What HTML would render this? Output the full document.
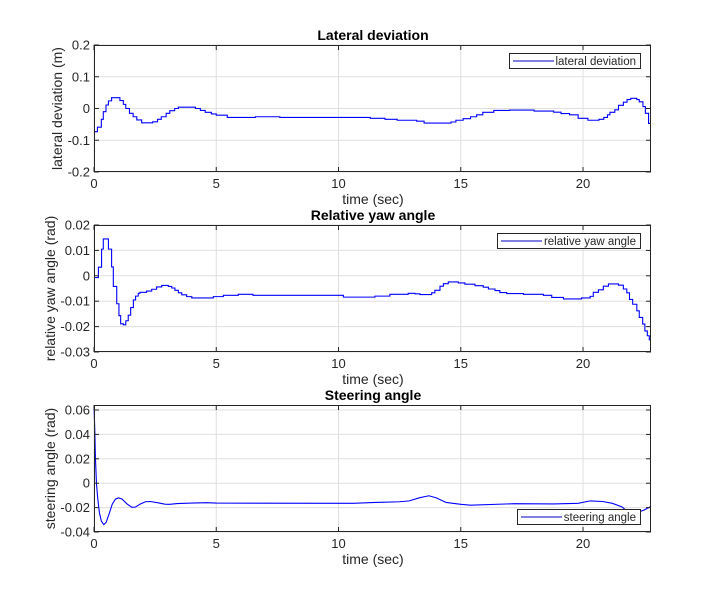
<!DOCTYPE html>
<html><head><meta charset="utf-8"><style>
html,body{margin:0;padding:0;background:#fff;}
svg{display:block;font-family:"Liberation Sans",sans-serif;}
</style></head><body>
<svg id="fig" width="720" height="600" viewBox="0 0 720 600">
<rect width="720" height="600" fill="#fff"/>
</svg>
<script>
// ---- data ----
const latT=[0,0.14,0.3,0.38,0.49,0.59,0.72,1.06,1.2,1.3,1.45,1.6,1.75,1.95,2.4,2.6,2.75,2.95,3.1,3.3,3.45,4.15,4.35,4.55,4.8,5.0,5.45,6.6,7.6,11.3,11.9,12.4,13.2,13.5,14.6,14.8,15.1,15.4,15.65,15.9,16.35,17.0,18.0,18.8,19.1,19.45,19.8,20.2,20.65,20.85,21.0,21.1,21.3,21.45,21.65,21.8,21.95,22.2,22.3,22.45,22.55,22.68];
const latV=[-0.073,-0.059,-0.034,-0.010,0.011,0.024,0.034,0.025,0.013,0.0,-0.015,-0.026,-0.036,-0.045,-0.042,-0.034,-0.026,-0.015,-0.007,0.0,0.004,0.0,-0.006,-0.012,-0.017,-0.021,-0.028,-0.026,-0.028,-0.031,-0.034,-0.037,-0.040,-0.046,-0.0425,-0.037,-0.032,-0.026,-0.020,-0.012,-0.006,-0.005,-0.008,-0.0115,-0.016,-0.020,-0.031,-0.037,-0.034,-0.028,-0.020,-0.012,-0.004,0.010,0.020,0.028,0.032,0.028,0.021,0.006,-0.015,-0.047];
const yawT=[0,0.18,0.31,0.38,0.59,0.72,0.79,0.93,1.02,1.09,1.2,1.3,1.4,1.5,1.61,1.7,1.81,1.88,2.15,2.36,2.56,2.77,3.04,3.18,3.31,3.45,3.59,3.79,4.0,4.88,5.29,5.9,6.5,10.2,11.49,12.1,12.85,13.13,13.33,13.81,13.94,14.15,14.29,14.49,14.9,15.17,15.58,15.92,16.13,16.4,16.6,16.88,17.56,18.38,18.72,19.2,19.94,20.29,20.42,20.63,20.83,21.04,21.45,21.65,21.79,21.9,22.03,22.2,22.3,22.44,22.53,22.63,22.71];
const yawV=[-0.0007,0.0034,0.0105,0.0145,0.0105,0.0035,-0.0042,-0.011,-0.0157,-0.0189,-0.0193,-0.0177,-0.0155,-0.0125,-0.0095,-0.008,-0.0069,-0.0065,-0.006,-0.0053,-0.0044,-0.0038,-0.0042,-0.0048,-0.0057,-0.0067,-0.0075,-0.0082,-0.0087,-0.0082,-0.0077,-0.0073,-0.0077,-0.0084,-0.0080,-0.0073,-0.0069,-0.0071,-0.0074,-0.0067,-0.0057,-0.0041,-0.0031,-0.0024,-0.0028,-0.0033,-0.0039,-0.0045,-0.0052,-0.0058,-0.0066,-0.007,-0.0073,-0.0077,-0.0085,-0.0091,-0.0087,-0.0081,-0.0065,-0.0055,-0.0041,-0.0032,-0.0037,-0.0052,-0.0067,-0.0093,-0.0112,-0.0138,-0.0164,-0.019,-0.0217,-0.0236,-0.0252];
const steT=[0,0.03,0.06,0.1,0.15,0.22,0.3,0.4,0.5,0.62,0.75,0.88,1.0,1.15,1.35,1.55,1.7,1.9,2.1,2.3,2.6,2.9,3.1,3.4,4.0,4.6,5.0,10.6,11.5,12.5,12.9,13.3,13.7,14.0,14.4,15.0,15.4,17.2,18.8,19.8,20.3,20.8,21.2,21.6,21.8,22.1,22.5,22.78];
const steV=[0.064,0.045,0.02,0.0,-0.012,-0.024,-0.031,-0.034,-0.032,-0.025,-0.017,-0.013,-0.012,-0.013,-0.017,-0.0198,-0.0195,-0.017,-0.0152,-0.015,-0.016,-0.0172,-0.0173,-0.0167,-0.0163,-0.016,-0.0163,-0.0165,-0.0158,-0.0152,-0.0145,-0.012,-0.0103,-0.012,-0.0158,-0.0173,-0.018,-0.0168,-0.017,-0.0165,-0.0145,-0.015,-0.0165,-0.0195,-0.023,-0.025,-0.022,-0.019];
const xTicks=[0,5,10,15,20];
const latTicks=[0.2,0.1,0,-0.1,-0.2];
const yawTicks=[0.02,0.01,0,-0.01,-0.02,-0.03];
const steTicks=[0.06,0.04,0.02,0,-0.02,-0.04];

const NS="http://www.w3.org/2000/svg";
const svg=document.getElementById('fig');
function el(tag,attrs,parent){const e=document.createElementNS(NS,tag);for(const k in attrs)e.setAttribute(k,attrs[k]);(parent||svg).appendChild(e);return e;}
const XMAX=22.78, L=94, R=651;
function xs(t){return L+(t/XMAX)*(R-L);}

function panel(cfg){
  const g=el('g',{});
  
  
  const ys=v=>cfg.top+(cfg.ymax-v)/(cfg.ymax-cfg.ymin)*(cfg.bot-cfg.top);
  el('rect',{x:L,y:cfg.top,width:R-L,height:cfg.bot-cfg.top,fill:'#fff'},g);
  xTicks.forEach(t=>{
    const l=el('line',{x1:xs(t),x2:xs(t),y1:cfg.top,y2:cfg.bot,stroke:'#dfdfdf','stroke-width':1},g);
    
    
  });
  cfg.ticks.forEach(v=>{
    const l=el('line',{x1:L,x2:R,y1:ys(v),y2:ys(v),stroke:'#dfdfdf','stroke-width':1},g);
    
    
  });
  let d='';
  if(cfg.stairs){
    d='M'+xs(cfg.t[0])+','+ys(cfg.v[0]);
    for(let i=1;i<cfg.t.length;i++){d+=' H'+xs(cfg.t[i])+' V'+ys(cfg.v[i]);}
    d+=' H'+xs(XMAX);
  } else {
    d=cfg.t.map((t,i)=>(i?'L':'M')+xs(t)+','+ys(cfg.v[i])).join(' ');
  }
  const p=el('path',{d:d,fill:'none',stroke:'#0000ff','stroke-width':1.1},g);
  
  
  el('rect',{x:L+0.5,y:cfg.top+0.5,width:R-L-1,height:cfg.bot-cfg.top-1,fill:'none',stroke:'#262626','stroke-width':1},g);
  xTicks.forEach(t=>{
    el('line',{x1:xs(t),x2:xs(t),y1:cfg.bot,y2:cfg.bot-5,stroke:'#262626'},g);
    el('line',{x1:xs(t),x2:xs(t),y1:cfg.top,y2:cfg.top+5,stroke:'#262626'},g);
    const tx=el('text',{x:xs(t),y:cfg.bot+16,'font-size':13,'text-anchor':'middle',fill:'#262626'},g);
    tx.textContent=t;
    
    
  });
  cfg.ticks.forEach(v=>{
    el('line',{x1:L,x2:L+5,y1:ys(v),y2:ys(v),stroke:'#262626'},g);
    el('line',{x1:R,x2:R-5,y1:ys(v),y2:ys(v),stroke:'#262626'},g);
    const tx=el('text',{x:L-4,y:ys(v)+4.5,'font-size':13,'text-anchor':'end',fill:'#262626'},g);
    tx.textContent=String(v);
    
    
  });
  const xl=el('text',{x:373,y:cfg.bot+32,'font-size':14,'text-anchor':'middle',fill:'#262626'},g);
  xl.textContent='time (sec)';
  
  
  const cy=(cfg.top+cfg.bot)/2;
  const yl=el('text',{x:cfg.ylx,y:cy,'font-size':14,'text-anchor':'middle',fill:'#262626',transform:'rotate(-90 '+cfg.ylx+' '+cy+')'},g);
  yl.textContent=cfg.ylabel;
  
  
  const ti=el('text',{x:373,y:cfg.top-5,'font-size':14,'font-weight':'bold','text-anchor':'middle',fill:'#000'},g);
  ti.textContent=cfg.title;
  
  
  const lg=el('g',{},g);
  
  
  el('rect',{x:cfg.lg[0]+0.5,y:cfg.lg[1]+0.5,width:cfg.lg[2]-cfg.lg[0],height:cfg.lg[3]-cfg.lg[1],fill:'#fff',stroke:'#262626','stroke-width':1},lg);
  const my=(cfg.lg[1]+cfg.lg[3])/2+0.5;
  el('line',{x1:cfg.lg[0]+4,x2:cfg.lg[0]+45,y1:my,y2:my,stroke:'#0000c0','stroke-width':1},lg);
  const lt=el('text',{x:cfg.lg[2]-4,y:my+4,'font-size':11.5,'text-anchor':'end',fill:'#262626'},lg);
  lt.textContent=cfg.legend;
}
panel({name:'lateral-deviation',top:45,bot:172,ymin:-0.2,ymax:0.2,ticks:latTicks,t:latT,v:latV,stairs:true,
  ylabel:'lateral deviation (m)',ylx:62,title:'Lateral deviation',legend:'lateral deviation',lg:[509,53,640,68]});
panel({name:'relative-yaw-angle',top:225,bot:352,ymin:-0.03,ymax:0.02,ticks:yawTicks,t:yawT,v:yawV,stairs:true,
  ylabel:'relative yaw angle (rad)',ylx:55,title:'Relative yaw angle',legend:'relative yaw angle',lg:[497,233,640,248]});
panel({name:'steering-angle',top:405,bot:532,ymin:-0.04,ymax:0.0641,ticks:steTicks,t:steT,v:steV,stairs:false,
  ylabel:'steering angle (rad)',ylx:55,title:'Steering angle',legend:'steering angle',lg:[517,509,640,524]});
</script>
</body></html>
